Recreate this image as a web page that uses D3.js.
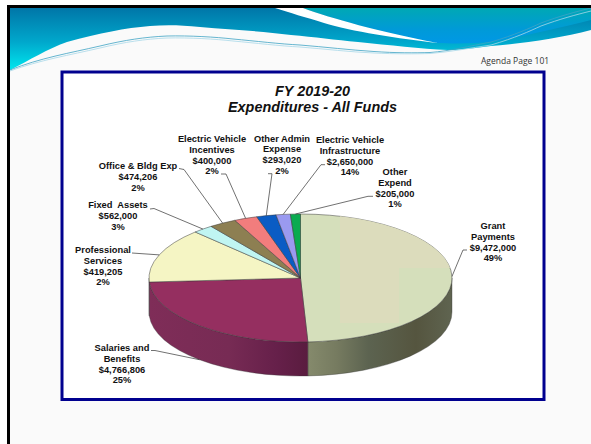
<!DOCTYPE html>
<html><head><meta charset="utf-8">
<script src="https://cdn.jsdelivr.net/npm/d3@7/dist/d3.min.js"></script>
<style>html,body{margin:0;padding:0;background:#fff}svg{display:block}
text{font-family:"Liberation Sans",Arial,sans-serif;fill:#111}</style></head>
<body><svg id="c" width="591" height="444"></svg>
<script>
// ---- data ----
const sliceAmounts = [9472000, 4766806, 2650000, 419205, 562000, 474206, 400000, 293020, 205000];
const labelNames = [["Grant","Payments"],["Salaries and","Benefits"],["Professional","Services"],["Fixed  Assets"],["Office & Bldg Exp"],["Electric Vehicle","Incentives"],["Other Admin","Expense"],["Electric Vehicle","Infrastructure"],["Other","Expend"]];
const labelAmounts = ["$9,472,000","$4,766,806","$419,205","$562,000","$474,206","$400,000","$293,020","$2,650,000","$205,000"];
const labelPercents = ["49%","25%","2%","3%","2%","2%","2%","14%","1%"];
const titleLines = ["FY 2019-20","Expenditures - All Funds"];
const pageNote = "Agenda Page 101";
// ---- styling and layout ----
const topColors = ["#d5dfbb","#952f60","#f5f5c4","#c0f5f2","#8d7f52","#f27d7d","#0a5cc4","#9a9af0","#0aab50"];
const labelCenter = [[493,226],[122,348],[103,250],[118,205],[138,166],[212,139],[282,138.5],[350,140],[395,172]];
const elbow = [[[467,250],[463,250]],[[151,350.5],[155,350.5]],[[132,253],[132,253]],[[150,209],[154,208.5]],[[179,168.5],[184,169.5]],[[221,174],[226,174]],[[268,173.7],[272,173.7]],[[325,164.7],[321,164.7]],[[373,196.3],[368,196.3]]];
const cx=300.5, cy=278, rx=151.5, ry=64, depth=34;

const svg=d3.select("#c");
const defs=svg.append("defs");
function grad(id,x1,y1,x2,y2,stops){
  const g=defs.append("linearGradient").attr("id",id).attr("gradientUnits","userSpaceOnUse")
    .attr("x1",x1).attr("y1",y1).attr("x2",x2).attr("y2",y2);
  stops.forEach(s=>g.append("stop").attr("offset",s[0]).attr("stop-color",s[1]));
}
grad("bA",0,8,0,70,[[0,"#0076a8"],[.55,"#00a8cc"],[1,"#00e6ee"]]);
grad("bB",0,8,0,44,[[0,"#00a8b4"],[.6,"#009ad8"],[1,"#0098e6"]]);
grad("sideG",308,0,452,0,[[0,"#858a6c"],[.2,"#767b60"],[.42,"#5c6350"],[.75,"#55553f"],[1,"#5f6450"]]);
grad("sideS",149,0,308,0,[[0,"#7f2d58"],[.5,"#772b54"],[.8,"#66204a"],[1,"#5a1c3f"]]);

// page
svg.append("rect").attr("x",8).attr("y",6).attr("width",583).attr("height",438).attr("fill","#fafafa");
const banner=svg.append("g");
banner.append("path").attr("fill","url(#bA)").attr("d","M10,8H591V30C560,38 520,44 491,46C475,48 460,50 448,50C420,49 390,45 358,42C335,40 315,37 291,35C262,31 233,30 200,27C180,25 165,25 150,26C125,28 100,33 67,42C47,49 30,60 10,70Z");
banner.append("path").attr("fill","url(#bB)").attr("d","M303,8C330,18 380,32 438,43C460,44 475,43 491,42C515,38 550,30 591,20V8Z");
banner.append("path").attr("fill","#fff").attr("d","M275,8H303C330,18 380,32 438,43C400,39 350,31 324,23C305,17 290,13 275,8Z");
banner.append("path").attr("fill","none").attr("stroke","#3fa3c4").attr("stroke-width",.8).attr("d","M10,70C40,58 70,53 100,46C125,40 145,37 167,36C190,35.5 215,37 233,39C255,41 280,44 300,45C325,47 350,50 374,51.5C395,53 415,53 430,52.5C450,51 470,46 491,42C515,35 530,28 541,23C560,16 575,12 591,8");
banner.append("path").attr("fill","none").attr("stroke","#a8d8e8").attr("stroke-width",.8).attr("d","M10,71C40,60 70,55 100,48C125,42 145,39 167,38C190,37.5 215,39 233,41C255,43 280,46 300,47C325,49 350,52 374,53C395,54 415,54 430,53.5C450,52 470,48 491,45C515,38 530,31 541,26C560,19 575,15 591,11");
svg.append("path").attr("fill","none").attr("stroke","#000").attr("stroke-width",3).attr("d","M8.5,444V6.5H591");
svg.append("text").attr("x",481).attr("y",63.5).attr("font-size",8.5).style("font-family","'Open Sans',sans-serif").style("fill","#333").text(pageNote);

// frame
svg.append("rect").attr("x",62).attr("y",72).attr("width",482).attr("height",327.5).attr("fill","#fff").attr("stroke","#00008f").attr("stroke-width",3);

// title
svg.append("g").selectAll("text").data(titleLines).join("text")
  .attr("x",312.5).attr("y",(d,i)=>96+i*16.3).attr("text-anchor","middle")
  .attr("font-size",14.4).attr("font-weight","bold").attr("font-style","italic").text(d=>d);

// pie
const arcs=d3.pie().sort(null).value(d=>d)(sliceAmounts);
const px=a=>cx+rx*Math.sin(a), py=a=>cy-ry*Math.cos(a);
const piePath=d=>{
  const large=(d.endAngle-d.startAngle)>Math.PI?1:0;
  return `M${cx},${cy}L${px(d.startAngle)},${py(d.startAngle)}A${rx},${ry} 0 ${large} 1 ${px(d.endAngle)},${py(d.endAngle)}Z`;
};
const sidePath=d=>{
  const a0=Math.max(d.startAngle,Math.PI/2), a1=Math.min(d.endAngle,Math.PI*1.5);
  if(a1<=a0) return null;
  return `M${px(a0)},${py(a0)}A${rx},${ry} 0 0 1 ${px(a1)},${py(a1)}L${px(a1)},${py(a1)+depth}A${rx},${ry} 0 0 0 ${px(a0)},${py(a0)+depth}Z`;
};
const sideFill=["url(#sideG)","url(#sideS)","#7f2d58"];
svg.append("g").selectAll("path").data(arcs.filter(sidePath)).join("path")
  .attr("d",sidePath).attr("fill",(d,i)=>sideFill[i]).attr("stroke","#333").attr("stroke-width",.35);
svg.append("g").selectAll("path").data(arcs).join("path")
  .attr("d",piePath).attr("fill",(d,i)=>topColors[i]).attr("stroke","#3a3a3a").attr("stroke-width",.5);

// tonal tiles on the large slice
defs.append("clipPath").attr("id","gc").append("path").attr("d",piePath(arcs[0]));
const tiles=svg.append("g").attr("clip-path","url(#gc)").attr("fill","#dcdcbc");
tiles.append("rect").attr("x",340).attr("y",214).attr("width",115).attr("height",54);
tiles.append("rect").attr("x",340).attr("y",268).attr("width",59).attr("height",55);

// leader lines from each slice's mid-angle
const anchor=d=>{
  const a=(d.startAngle+d.endAngle)/2;
  return [px(a),py(a)+(Math.cos(a)<-0.02?depth:0)];
};
svg.append("g").selectAll("path").data(arcs).join("path")
  .attr("fill","none").attr("stroke","#333").attr("stroke-width",.7)
  .attr("d",(d,i)=>d3.line()([elbow[i][0],elbow[i][1],anchor(d)]));

// labels
const lab=svg.append("g").selectAll("text").data(labelNames).join("text")
  .attr("text-anchor","middle").attr("font-size",9.3).attr("font-weight","bold");
lab.each(function(names,i){
  const lines=[...names,labelAmounts[i],labelPercents[i]];
  d3.select(this).selectAll("tspan").data(lines).join("tspan")
    .attr("x",labelCenter[i][0]).attr("y",(l,j)=>labelCenter[i][1]+3.2+j*10.65)
    .style("white-space","pre").text(l=>l);
});
</script></body></html>
